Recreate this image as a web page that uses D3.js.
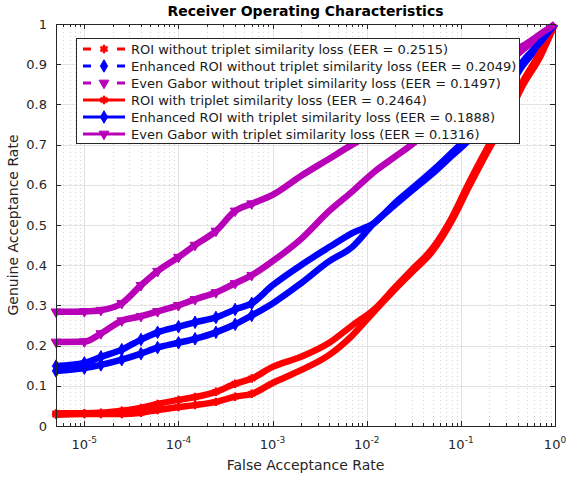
<!DOCTYPE html>
<html>
<head>
<meta charset="utf-8">
<script src="https://cdn.jsdelivr.net/npm/d3@7"></script>
<style>
  body { margin: 0; background: #fff; }
  svg { display: block; font-family: "DejaVu Sans", sans-serif; }
</style>
</head>
<body>
<div id="chart"></div>
<script>
// False acceptance rate sample points, shared by every curve
const far = [5e-6, 1e-5, 1.5e-5, 2.5e-5, 4e-5, 6e-5, 1e-4, 1.5e-4, 2.5e-4, 4e-4, 6e-4,
             1e-3, 2e-3, 4e-3, 7e-3, 1.2e-2, 2e-2, 3e-2, 5e-2, 8e-2, 0.12, 0.2, 0.3, 0.45, 0.7, 1];

// Genuine acceptance rate
const garRoiWithout   = [0.028,0.030,0.030,0.030,0.033,0.040,0.047,0.052,0.060,0.073,0.080,0.107,0.139,0.177,0.225,0.285,0.340,0.382,0.435,0.510,0.592,0.690,0.760,0.845,0.920,1.0];
const garEnhWithout   = [0.137,0.144,0.152,0.165,0.180,0.195,0.207,0.217,0.233,0.253,0.275,0.305,0.355,0.410,0.445,0.505,0.550,0.585,0.628,0.672,0.710,0.780,0.830,0.895,0.950,1.0];
const garGaborWithout = [0.209,0.210,0.230,0.262,0.273,0.285,0.300,0.315,0.332,0.355,0.375,0.410,0.465,0.535,0.583,0.632,0.670,0.700,0.745,0.790,0.830,0.870,0.900,0.935,0.970,1.0];
const garRoiWith      = [0.032,0.032,0.033,0.038,0.045,0.055,0.065,0.072,0.085,0.105,0.118,0.147,0.172,0.207,0.250,0.290,0.345,0.388,0.442,0.518,0.602,0.700,0.770,0.855,0.930,1.0];
const garEnhWith      = [0.149,0.157,0.172,0.190,0.215,0.233,0.247,0.258,0.270,0.290,0.305,0.350,0.400,0.445,0.480,0.505,0.555,0.590,0.635,0.680,0.720,0.790,0.840,0.905,0.955,1.0];
const garGaborWith    = [0.284,0.285,0.288,0.305,0.350,0.385,0.420,0.450,0.485,0.535,0.553,0.575,0.622,0.665,0.700,0.730,0.760,0.780,0.810,0.840,0.870,0.900,0.925,0.945,0.975,1.0];

const legendLabels = [
  "ROI without triplet similarity loss (EER = 0.2515)",
  "Enhanced ROI without triplet similarity loss (EER = 0.2049)",
  "Even Gabor without triplet similarity loss (EER = 0.1497)",
  "ROI with triplet similarity loss (EER = 0.2464)",
  "Enhanced ROI with triplet similarity loss (EER = 0.1888)",
  "Even Gabor with triplet similarity loss (EER = 0.1316)"
];

const xTickExponents = [-5, -4, -3, -2, -1, 0];
const yTickValues = [0, 0.1, 0.2, 0.3, 0.4, 0.5, 0.6, 0.7, 0.8, 0.9, 1];
const yTickLabels = ["0", "0.1", "0.2", "0.3", "0.4", "0.5", "0.6", "0.7", "0.8", "0.9", "1"];

// styles (same order as the legend)
const seriesData = [garRoiWithout, garEnhWithout, garGaborWithout, garRoiWith, garEnhWith, garGaborWith];
const colors = ["#ff0000", "#0000ff", "#b800b8", "#ff0000", "#0000ff", "#b800b8"];
const markerKind = ["star", "diamond", "tri", "star", "diamond", "tri"];
const dashed = [true, true, true, false, false, false];

const width = 568, height = 479;
const margin = {top: 24, right: 13, bottom: 53, left: 56};
const axisColor = "#262626";

const x = d3.scaleLog().domain([5e-6, 1]).range([margin.left, width - margin.right]);
const y = d3.scaleLinear().domain([0, 1]).range([height - margin.bottom, margin.top]);

const svg = d3.select("#chart").append("svg")
    .attr("width", width)
    .attr("height", height);

const x0 = margin.left, x1 = width - margin.right, y0 = height - margin.bottom, y1 = margin.top;

// minor positions of the log axis
const minorX = [];
for (let e = -6; e < 0; e++) {
  for (let k = 2; k < 10; k++) {
    const v = k * Math.pow(10, e);
    if (v > 5.01e-6 && v < 0.99) minorX.push(v);
  }
}
const majorX = xTickExponents.map(e => Math.pow(10, e));

// grid
svg.append("g").selectAll("line").data(minorX).enter().append("line")
    .attr("x1", d => Math.round(x(d)) + 0.5).attr("x2", d => Math.round(x(d)) + 0.5)
    .attr("y1", y1).attr("y2", y0)
    .style("stroke", "#d6d6d6").style("stroke-width", 1).style("stroke-dasharray", "1,3");
svg.append("g").selectAll("line").data(majorX).enter().append("line")
    .attr("x1", d => Math.round(x(d)) + 0.5).attr("x2", d => Math.round(x(d)) + 0.5)
    .attr("y1", y1).attr("y2", y0)
    .style("stroke", "#e2e2e2").style("stroke-width", 1);
svg.append("g").selectAll("line").data(yTickValues).enter().append("line")
    .attr("x1", x0).attr("x2", x1)
    .attr("y1", d => Math.round(y(d)) + 0.5).attr("y2", d => Math.round(y(d)) + 0.5)
    .style("stroke", "#e2e2e2").style("stroke-width", 1);

// ticks (inward, all four sides)
const ticks = svg.append("g").style("stroke", axisColor).style("stroke-width", 1);
majorX.forEach(v => {
  const px = Math.round(x(v)) + 0.5;
  ticks.append("line").attr("x1", px).attr("x2", px).attr("y1", y0).attr("y2", y0 - 5);
  ticks.append("line").attr("x1", px).attr("x2", px).attr("y1", y1).attr("y2", y1 + 5);
});
minorX.forEach(v => {
  const px = Math.round(x(v)) + 0.5;
  ticks.append("line").attr("x1", px).attr("x2", px).attr("y1", y0).attr("y2", y0 - 3);
  ticks.append("line").attr("x1", px).attr("x2", px).attr("y1", y1).attr("y2", y1 + 3);
});
yTickValues.forEach(v => {
  const py = Math.round(y(v)) + 0.5;
  ticks.append("line").attr("x1", x0).attr("x2", x0 + 5).attr("y1", py).attr("y2", py);
  ticks.append("line").attr("x1", x1).attr("x2", x1 - 5).attr("y1", py).attr("y2", py);
});

// markers
function markerPath(kind) {
  if (kind === "star") return d3.symbol().type(d3.symbolAsterisk).size(50)();
  if (kind === "diamond") return d3.symbol().type(d3.symbolDiamond).size(45)();
  return d3.symbol().type(d3.symbolTriangle).size(42)();
}
function addMarker(g, kind, color, px, py) {
  const p = g.append("path")
      .attr("d", markerPath(kind))
      .attr("transform", `translate(${px},${py})` + (kind === "tri" ? " rotate(180)" : ""));
  if (kind === "star") {
    p.style("fill", "none").style("stroke", color).style("stroke-width", 2.5);
  } else {
    p.style("fill", color).style("stroke", color).style("stroke-width", 1);
  }
}

// curves
const line = d3.line()
    .curve(d3.curveMonotoneX)
    .x(d => x(d[0]))
    .y(d => y(d[1]));

seriesData.forEach((gar, i) => {
  const pts = far.map((f, j) => [f, gar[j]]);
  const g = svg.append("g");
  g.append("path")
      .datum(pts)
      .attr("d", line)
      .style("fill", "none")
      .style("stroke", colors[i])
      .style("stroke-width", 6.5)
      .style("stroke-linejoin", "round");
  // markers are only distinguishable where the ROC points are sparse
  pts.filter(d => d[0] <= 6e-4)
     .forEach(d => addMarker(g, markerKind[i], colors[i], x(d[0]), y(d[1])));
});

// axes box
svg.append("rect")
    .attr("x", x0 + 0.5).attr("y", y1 + 0.5)
    .attr("width", x1 - x0).attr("height", y0 - y1)
    .style("fill", "none").style("stroke", axisColor).style("stroke-width", 1);

// tick labels
svg.append("g").selectAll("text").data(yTickValues).enter().append("text")
    .attr("x", x0 - 9)
    .attr("y", d => y(d) + 4.5)
    .attr("text-anchor", "end")
    .style("font-size", "13px")
    .style("fill", axisColor)
    .text((d, i) => yTickLabels[i]);

const xl = svg.append("g").selectAll("text").data(xTickExponents).enter().append("text")
    .attr("x", d => x(Math.pow(10, d)))
    .attr("y", 449)
    .attr("text-anchor", "middle")
    .style("font-size", "13px")
    .style("fill", axisColor);
xl.append("tspan").text("10");
xl.append("tspan").attr("dy", -6).style("font-size", "9px").text(d => d === 0 ? "0" : "-" + Math.abs(d));

// axis titles
svg.append("text")
    .attr("x", (x0 + x1) / 2).attr("y", 470)
    .attr("text-anchor", "middle")
    .style("font-size", "14px").style("fill", axisColor)
    .text("False Acceptance Rate");

svg.append("text")
    .attr("transform", `translate(18, ${(y0 + y1) / 2}) rotate(-90)`)
    .attr("text-anchor", "middle")
    .style("font-size", "14px").style("fill", axisColor)
    .text("Genuine Acceptance Rate");

svg.append("text")
    .attr("x", (x0 + x1) / 2).attr("y", 16)
    .attr("text-anchor", "middle")
    .style("font-size", "14px").style("font-weight", "bold").style("fill", "#000")
    .text("Receiver Operating Characteristics");

// legend
const legend = svg.append("g");
legend.append("rect")
    .attr("x", 76.5).attr("y", 38.5).attr("width", 443).attr("height", 105)
    .style("fill", "#fff").style("stroke", axisColor).style("stroke-width", 1);

legendLabels.forEach((label, i) => {
  const cy = 49 + i * 17;
  legend.append("line")
      .attr("x1", 83).attr("x2", 125).attr("y1", cy).attr("y2", cy)
      .style("stroke", colors[i]).style("stroke-width", 3)
      .style("stroke-dasharray", dashed[i] ? "8,26,8,26" : null);
  addMarker(legend, markerKind[i], colors[i], 104, cy);
  legend.append("text")
      .attr("x", 131).attr("y", cy + 4.5)
      .style("font-size", "13px").style("fill", "#1a1a1a")
      .text(label);
});
</script>
</body>
</html>
